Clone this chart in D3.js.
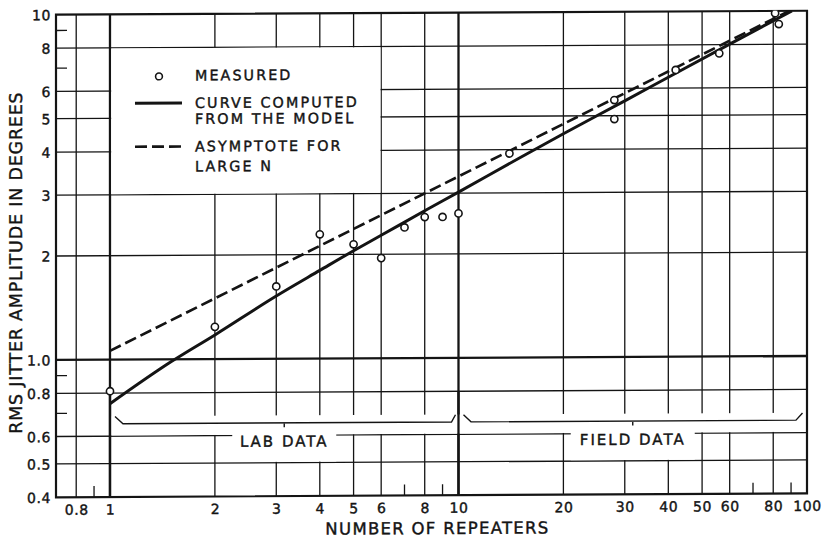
<!DOCTYPE html>
<html>
<head>
<meta charset="utf-8">
<script src="https://cdn.jsdelivr.net/npm/d3@7"></script>
<style>
  html, body { margin: 0; padding: 0; background: #fff; }
  svg { display: block; }
  text { font-family: "DejaVu Sans", sans-serif; fill: #141414; stroke: #141414; stroke-width: 0.4px; }
</style>
</head>
<body>
<svg id="chart" width="824" height="539"></svg>
<script>
// ---- data ----------------------------------------------------------------
const xTickValues = [0.8, 1, 2, 3, 4, 5, 6, 8, 10, 20, 30, 40, 50, 60, 80, 100];
const xGridValues = [0.8, 1, 2, 3, 4, 5, 6, 8, 10, 20, 30, 40, 50, 60, 80];
const xMinorTicks = [0.9, 7, 9, 70, 90];
const yTickValues = [0.4, 0.5, 0.6, 0.8, 1, 2, 3, 4, 5, 6, 8, 10];
const yTickLabels = ["0.4", "0.5", "0.6", "0.8", "1.0", "2", "3", "4", "5", "6", "8", "10"];
const yGridValues = [0.5, 0.6, 0.8, 1, 2, 3, 4, 5, 6, 8];
const yMinorTicks = [0.7, 0.9, 7, 9];
const heavyX = [1, 10];
const heavyY = [1];

// measured jitter (degrees rms) vs number of repeaters
const measuredN   = [1, 2, 3, 4, 5, 6, 7, 8, 9, 10, 14, 28, 28, 42, 56, 83, 81];
const measuredRms = [0.81, 1.24, 1.62, 2.29, 2.14, 1.95, 2.39, 2.56, 2.56, 2.62, 3.90, 5.55, 4.89, 6.77, 7.55, 9.16, 9.85];

// curve computed from the model
const modelN   = [1, 1.5, 2, 3, 4, 5, 6, 8, 10, 15, 20, 30, 40, 60, 90.5];
const modelRms = [0.745, 0.985, 1.175, 1.52, 1.80, 2.05, 2.27, 2.67, 3.02, 3.79, 4.44, 5.52, 6.45, 8.03, 10.0];

// asymptote for large N
const asymptoteN   = [1, 89];
const asymptoteRms = [1.06, 10.0];

// data groupings marked under the plot
const labDataRange   = [1, 10];
const fieldDataRange = [10, 100];

const legendItems = [
  { kind: "point",  lines: ["MEASURED"] },
  { kind: "solid",  lines: ["CURVE COMPUTED", "FROM THE MODEL"] },
  { kind: "dashed", lines: ["ASYMPTOTE FOR", "LARGE N"] }
];

// ---- layout ---------------------------------------------------------------
const ink = "#141414";
const svg = d3.select("#chart");
const plotLeft = 56, plotRight = 807, plotTop = 14.7, plotBottom = 497.3;

const x = d3.scaleLog().domain([0.7, 100]).range([plotLeft, plotRight]);
const y = d3.scaleLog().domain([0.4, 10]).range([plotBottom, plotTop]);

// the whole sheet sits with a slight tilt
const g = svg.append("g")
  .attr("transform", `translate(${plotLeft},0) skewY(-0.3) translate(${-plotLeft},0)`);

// ---- grid -----------------------------------------------------------------
const grid = g.append("g").attr("stroke", ink).attr("fill", "none");
grid.selectAll("line.vx").data(xGridValues).join("line")
  .attr("x1", d => x(d)).attr("x2", d => x(d))
  .attr("y1", plotTop).attr("y2", plotBottom)
  .attr("stroke-width", d => heavyX.includes(d) ? 2.3 : 1.3);
grid.selectAll("line.hy").data(yGridValues).join("line")
  .attr("x1", plotLeft).attr("x2", plotRight)
  .attr("y1", d => y(d)).attr("y2", d => y(d))
  .attr("stroke-width", d => heavyY.includes(d) ? 2.3 : 1.3);

// white band behind the data brackets and label boxes
const masks = g.append("g").attr("fill", "#fff");
masks.append("rect")
  .attr("x", x(1) + 1.5).attr("width", x(100) - x(1) - 3)
  .attr("y", y(0.685)).attr("height", y(0.6) - y(0.685) - 0.8);

function labelBox(range, width) {
  const cx = x(Math.sqrt(range[0] * range[1]));
  masks.append("rect")
    .attr("x", cx - width / 2).attr("width", width)
    .attr("y", y(0.6) - 3).attr("height", y(0.5) - y(0.6) + 2.2);
}
labelBox(labDataRange, 104);
labelBox(fieldDataRange, 124);

// legend panel blanks the cell from 1 to 6 and 3 to 8
masks.append("rect")
  .attr("x", x(1) + 1.2).attr("width", x(6) - x(1) - 1.9)
  .attr("y", y(8) + 0.7).attr("height", y(3) - y(8) - 1.4);

// heavy decade lines run through the band
g.append("g").selectAll("line").data(heavyX).join("line")
  .attr("x1", d => x(d)).attr("x2", d => x(d))
  .attr("y1", y(0.8)).attr("y2", plotBottom)
  .attr("stroke", ink).attr("stroke-width", 2.3);

// ---- frame and minor ticks -------------------------------------------------
g.append("rect")
  .attr("x", plotLeft).attr("y", plotTop)
  .attr("width", plotRight - plotLeft).attr("height", plotBottom - plotTop)
  .attr("fill", "none").attr("stroke", ink).attr("stroke-width", 2.2);

g.append("g").selectAll("line").data(xMinorTicks).join("line")
  .attr("x1", d => x(d)).attr("x2", d => x(d))
  .attr("y1", plotBottom).attr("y2", plotBottom - 11)
  .attr("stroke", ink).attr("stroke-width", 1.3);
g.append("g").selectAll("line").data(yMinorTicks).join("line")
  .attr("x1", plotLeft).attr("x2", plotLeft + 11)
  .attr("y1", d => y(d)).attr("y2", d => y(d))
  .attr("stroke", ink).attr("stroke-width", 1.3);

// ---- axes (labels only; the grid carries the tick lines) -----------------
const xAxis = d3.axisBottom(x).tickValues(xTickValues)
  .tickFormat(d3.format("~g")).tickSize(0).tickPadding(0);
const xa = g.append("g").attr("transform", `translate(0,${plotBottom})`).call(xAxis);
xa.select(".domain").remove();
xa.selectAll("text")
  .attr("y", 17.5).attr("dy", null)
  .style("font-size", "14px").style("letter-spacing", "0.6px")
  .attr("fill", ink);

const yAxis = d3.axisLeft(y).tickValues(yTickValues)
  .tickFormat((d, i) => yTickLabels[i]).tickSize(0).tickPadding(0);
const ya = g.append("g").attr("transform", `translate(${plotLeft - 5},0)`).call(yAxis);
ya.select(".domain").remove();
ya.selectAll("text")
  .attr("x", 0).attr("dy", "0.36em")
  .style("font-size", "14px").style("letter-spacing", "0.6px")
  .attr("fill", ink);

// axis titles
g.append("text")
  .attr("x", (325 + 550) / 2).attr("y", 536)
  .attr("text-anchor", "middle")
  .style("font-size", "16.5px").style("letter-spacing", "1.3px")
  .text("NUMBER OF REPEATERS");
g.append("text")
  .attr("transform", `translate(22,${(88 + 437) / 2}) rotate(-90)`)
  .attr("text-anchor", "middle")
  .style("font-size", "17.5px").style("letter-spacing", "0.8px")
  .text("RMS JITTER AMPLITUDE IN DEGREES");

// ---- data brackets --------------------------------------------------------
function bracket(range, insetL, bendL, bendR, insetR, label) {
  const yTip = y(0.684), yBar = y(0.652);
  const xs = [x(range[0]) + insetL, x(range[0]) + bendL, x(range[1]) - bendR, x(range[1]) - insetR];
  const cx = x(Math.sqrt(range[0] * range[1]));
  g.append("path")
    .attr("d", `M${xs[0]},${yTip}L${xs[1]},${yBar}L${xs[2]},${yBar}L${xs[3]},${yTip}` +
               `M${cx},${yBar}L${cx},${yBar + 4.5}`)
    .attr("fill", "none").attr("stroke", ink).attr("stroke-width", 1.4);
  g.append("text")
    .attr("x", cx).attr("y", y(0.6) + 11.3)
    .attr("text-anchor", "middle")
    .style("font-size", "15px").style("letter-spacing", "2px")
    .text(label);
}
bracket(labDataRange, 5, 13, 7, 3, "LAB DATA");
bracket(fieldDataRange, 5, 12.5, 11, 4.5, "FIELD DATA");

// ---- curves ---------------------------------------------------------------
const plot = g.append("g");
svg.append("defs").append("clipPath").attr("id", "plot-clip")
  .append("rect").attr("x", plotLeft).attr("y", plotTop - 0.5)
  .attr("width", plotRight - plotLeft).attr("height", plotBottom - plotTop);
plot.attr("clip-path", "url(#plot-clip)");

const line = d3.line()
  .x(d => x(d[0])).y(d => y(d[1]))
  .curve(d3.curveMonotoneX);

plot.append("path")
  .datum(d3.zip(asymptoteN, asymptoteRms))
  .attr("d", line)
  .attr("fill", "none").attr("stroke", ink)
  .attr("stroke-width", 2.7).attr("stroke-dasharray", "12,5");

plot.append("path")
  .datum(d3.zip(modelN, modelRms))
  .attr("d", line)
  .attr("fill", "none").attr("stroke", ink)
  .attr("stroke-width", 3);

plot.selectAll("circle").data(d3.zip(measuredN, measuredRms)).join("circle")
  .attr("cx", d => x(d[0])).attr("cy", d => y(d[1]))
  .attr("r", 3.6)
  .attr("fill", "#fff").attr("stroke", ink).attr("stroke-width", 1.6);

// ---- legend ---------------------------------------------------------------
const lx = x(1), ly = y(8);
const legend = g.append("g");
const rowTop = [33, 60.5, 104];
legendItems.forEach((item, i) => {
  const base = ly + rowTop[i];
  if (item.kind === "point") {
    legend.append("circle")
      .attr("cx", lx + 49).attr("cy", base - 4.2).attr("r", 3.4)
      .attr("fill", "#fff").attr("stroke", ink).attr("stroke-width", 1.6);
  } else {
    legend.append("line")
      .attr("x1", lx + 25).attr("x2", lx + 72)
      .attr("y1", base - 5).attr("y2", base - 5)
      .attr("stroke", ink).attr("stroke-width", item.kind === "solid" ? 3 : 2.7)
      .attr("stroke-dasharray", item.kind === "dashed" ? "12,5" : null);
  }
  item.lines.forEach((t, j) => {
    legend.append("text")
      .attr("x", lx + 85).attr("y", base + j * (i === 1 ? 16 : 20))
      .style("font-size", "14.3px").style("letter-spacing", "2.1px")
      .text(t);
  });
});
</script>
</body>
</html>
